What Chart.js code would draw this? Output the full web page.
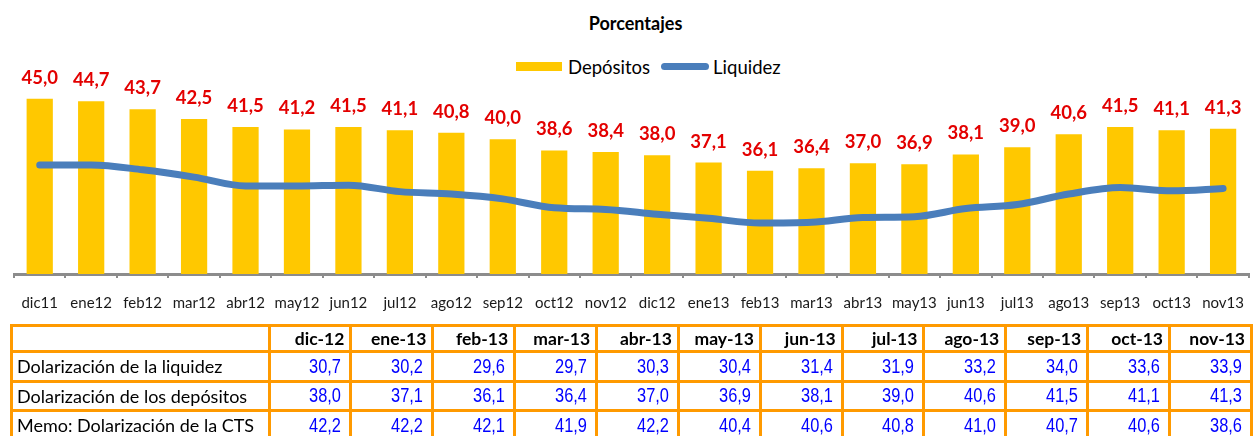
<!DOCTYPE html>
<html>
<head>
<meta charset="utf-8">
<script src="https://cdn.jsdelivr.net/npm/chart.js@4/dist/chart.umd.min.js"></script>
<style>
  body { margin: 0; background: #fff; width: 1253px; height: 436px; overflow: hidden; position: relative; font-family: Lato, sans-serif; }
  #titulo { position: absolute; left: 0; top: 12px; width: 1271px; text-align: center; font-weight: bold; font-size: 18px; color: #000; }
  #leyenda { position: absolute; left: 516px; top: 56px; height: 21px; display: flex; align-items: center; font-size: 18.5px; color: #000; }
  .caja { width: 46px; height: 9px; background: #ffc800; margin-right: 6px; }
  .linea { width: 48px; height: 7px; border-radius: 4px; background: #4a7ebb; margin-left: 11px; margin-right: 4px; }
  #grafico { position: absolute; left: 0; top: 0; width: 1260px; height: 338px; }
  table { position: absolute; left: 10px; top: 324px; border-collapse: collapse; table-layout: fixed; }
  td, th { border: 3px solid #ff9a00; padding: 0; white-space: nowrap; overflow: hidden; }
  th { height: 23px; font-weight: bold; font-size: 17.5px; text-align: right; padding-right: 5px; }
  td { height: 26.5px; }
  td.nombre { font-size: 18px; text-align: left; padding-left: 4px; }
  td.valor { font-family: "Liberation Sans", Arial, sans-serif; font-size: 20px; color: #0000ff; text-align: right; padding-right: 8px; }
  td.valor span { display: inline-block; transform: scaleX(0.82); transform-origin: right center; }
</style>
</head>
<body>
<div id="titulo">Porcentajes</div>
<div id="leyenda"><div class="caja"></div><span>Depósitos</span><div class="linea"></div><span>Liquidez</span></div>
<div id="grafico"><canvas id="chart"></canvas></div>
<table id="tabla"></table>
<script>
// Datos del gráfico
var meses = ["dic11", "ene12", "feb12", "mar12", "abr12", "may12", "jun12", "jul12", "ago12", "sep12", "oct12", "nov12",
             "dic12", "ene13", "feb13", "mar13", "abr13", "may13", "jun13", "jul13", "ago13", "sep13", "oct13", "nov13"];
var depositos = [45.0, 44.7, 43.7, 42.5, 41.5, 41.2, 41.5, 41.1, 40.8, 40.0, 38.6, 38.4,
                 38.0, 37.1, 36.1, 36.4, 37.0, 36.9, 38.1, 39.0, 40.6, 41.5, 41.1, 41.3];
var liquidez = [36.8, 36.8, 36.2, 35.3, 34.2, 34.2, 34.3, 33.5, 33.2, 32.6, 31.5, 31.3,
                30.7, 30.2, 29.6, 29.7, 30.3, 30.4, 31.4, 31.9, 33.2, 34.0, 33.6, 33.9];

// Datos de la tabla
var columnasTabla = ["dic-12", "ene-13", "feb-13", "mar-13", "abr-13", "may-13", "jun-13", "jul-13", "ago-13", "sep-13", "oct-13", "nov-13"];
var filasTabla = ["Dolarización de la liquidez", "Dolarización de los depósitos", "Memo: Dolarización de la CTS"];
var dolLiquidez = [30.7, 30.2, 29.6, 29.7, 30.3, 30.4, 31.4, 31.9, 33.2, 34.0, 33.6, 33.9];
var dolDepositos = [38.0, 37.1, 36.1, 36.4, 37.0, 36.9, 38.1, 39.0, 40.6, 41.5, 41.1, 41.3];
var dolCTS = [42.2, 42.2, 42.1, 41.9, 42.2, 40.4, 40.6, 40.8, 41.0, 40.7, 40.6, 38.6];

function fmt(v) {
  return v.toFixed(1).replace(".", ",");
}

// Etiquetas rojas sobre las barras
var etiquetas = {
  id: "etiquetas",
  afterDatasetsDraw: function(chart) {
    var ctx = chart.ctx;
    var meta = chart.getDatasetMeta(1);
    ctx.save();
    ctx.font = "bold 18.5px Lato";
    ctx.fillStyle = "#e30000";
    ctx.textAlign = "center";
    ctx.textBaseline = "middle";
    meta.data.forEach(function(barra, i) {
      ctx.fillText(fmt(depositos[i]), barra.x, barra.y - 21);
    });
    ctx.restore();
  }
};

new Chart("chart", {
  type: "bar",
  data: {
    labels: meses,
    datasets: [{
      type: "line",
      label: "Liquidez",
      data: liquidez,
      borderColor: "#4a7ebb",
      backgroundColor: "#4a7ebb",
      borderWidth: 7,
      borderCapStyle: "round",
      borderJoinStyle: "round",
      cubicInterpolationMode: "monotone",
      pointRadius: 0,
      order: 0
    }, {
      label: "Depósitos",
      data: depositos,
      backgroundColor: "#ffc800",
      categoryPercentage: 1,
      barPercentage: 0.51,
      order: 1
    }]
  },
  options: {
    responsive: true,
    maintainAspectRatio: false,
    animation: false,
    layout: { padding: { top: 60, left: 14, right: 0, bottom: 10 } },
    plugins: {
      legend: { display: false },
      title: { display: false },
      tooltip: { enabled: false }
    },
    scales: {
      y: { display: false, min: 23.3, max: 49.8 },
      x: {
        grid: { display: true, drawOnChartArea: false, drawTicks: true, tickLength: 4, color: "#8c8c8c", lineWidth: 2 },
        border: { display: true, color: "#8c8c8c", width: 3 },
        ticks: { color: "#1a1a1a", font: { family: "Lato", size: 15 }, padding: 16, maxRotation: 0, autoSkip: false }
      }
    }
  },
  plugins: [etiquetas]
});

// Construir la tabla
var tabla = document.getElementById("tabla");
var html = '<colgroup><col style="width:258px">';
columnasTabla.forEach(function() { html += '<col style="width:82.4px">'; });
html += '</colgroup><tr><th></th>';
columnasTabla.forEach(function(c) { html += '<th>' + c + '</th>'; });
html += '</tr>';
[dolLiquidez, dolDepositos, dolCTS].forEach(function(fila, i) {
  html += '<tr><td class="nombre">' + filasTabla[i] + '</td>';
  fila.forEach(function(v) { html += '<td class="valor"><span>' + fmt(v) + '</span></td>'; });
  html += '</tr>';
});
tabla.innerHTML = html;
</script>
</body>
</html>
